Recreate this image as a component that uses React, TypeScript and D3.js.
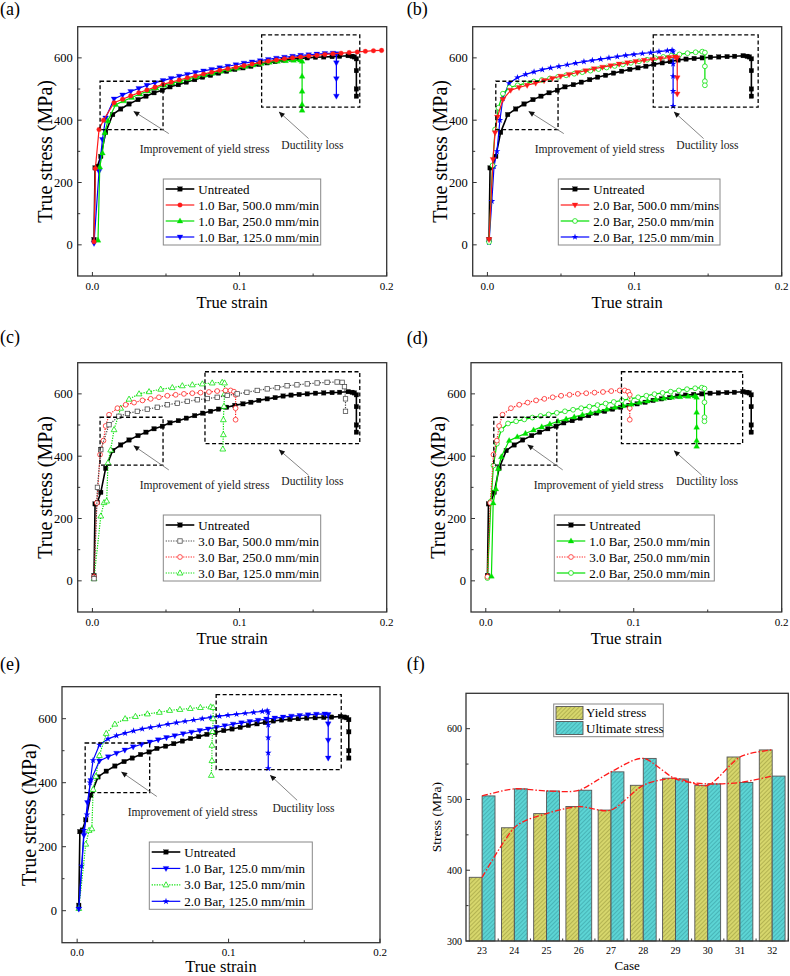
import React from 'react';
import * as d3 from 'd3';

type Pt = [number, number];

// ---------------- data: true strain / true stress (MPa) ----------------
const untreated: Pt[] = [[0.0011,17],[0.0018,247],[0.0034,252],[0.0057,284],[0.009,361],[0.0138,418],[0.0192,436],[0.0249,452],[0.031,466],[0.0364,477],[0.0419,488],[0.0475,496],[0.0527,507],[0.0584,514],[0.0638,522],[0.0695,530],[0.0749,538],[0.0803,544],[0.0857,551],[0.0912,557],[0.0968,563],[0.1023,568],[0.1077,573],[0.1131,579],[0.1188,584],[0.1242,588],[0.1296,593],[0.135,596],[0.1405,598],[0.146,600],[0.1516,602],[0.1572,603],[0.1629,604],[0.168,605],[0.1738,607],[0.1765,605],[0.178,603],[0.1794,597],[0.1794,559],[0.1794,500],[0.1794,477]];

const bar1v500: Pt[] = [[0.0011,10],[0.002,245],[0.0045,370],[0.0075,400],[0.0147,456],[0.0205,467],[0.026,478],[0.0315,488],[0.037,497],[0.0425,506],[0.048,515],[0.0535,522],[0.059,529],[0.0645,536],[0.07,542],[0.0755,548],[0.081,554],[0.0865,560],[0.092,565],[0.0975,570],[0.103,575],[0.1085,580],[0.114,585],[0.1195,589],[0.125,593],[0.1305,597],[0.136,600],[0.1415,603],[0.147,606],[0.1525,608],[0.158,611],[0.1635,613],[0.169,615],[0.1745,617],[0.18,619],[0.1855,621],[0.191,623],[0.1965,624]];

const bar1v250: Pt[] = [[0.0038,15],[0.005,250],[0.0068,295],[0.0084,360],[0.0105,398],[0.0158,450],[0.0213,462],[0.0268,473],[0.0323,484],[0.0378,494],[0.0433,503],[0.0488,512],[0.0543,519],[0.0598,526],[0.0653,533],[0.0708,539],[0.0763,545],[0.0818,551],[0.0873,557],[0.0928,562],[0.0983,567],[0.1038,572],[0.1093,577],[0.1148,582],[0.1203,586],[0.1258,589],[0.1313,591],[0.1368,592],[0.1413,593],[0.1425,589],[0.1425,541],[0.1425,493],[0.1425,450],[0.1425,432]];

const bar1v125: Pt[] = [[0.0011,5],[0.0045,236],[0.0068,338],[0.009,407],[0.0147,468],[0.0205,481],[0.026,492],[0.0315,502],[0.037,512],[0.0425,520],[0.048,527],[0.0535,534],[0.059,541],[0.0645,547],[0.07,553],[0.0755,558],[0.081,563],[0.0865,568],[0.092,573],[0.0975,578],[0.103,583],[0.1085,587],[0.114,591],[0.1195,595],[0.125,599],[0.1305,602],[0.136,605],[0.1415,608],[0.147,610],[0.1525,612],[0.158,614],[0.1635,615],[0.1658,613],[0.1658,584],[0.1658,533],[0.1658,477]];

const bar2v500: Pt[] = [[0.0011,17],[0.0038,274],[0.0052,360],[0.0068,410],[0.0105,466],[0.0158,496],[0.0215,505],[0.027,512],[0.0328,519],[0.0385,527],[0.0441,534],[0.0498,541],[0.0555,547],[0.0612,553],[0.0668,559],[0.0725,565],[0.0782,570],[0.0838,575],[0.0895,580],[0.0952,584],[0.1008,588],[0.1065,592],[0.1122,595],[0.1178,598],[0.1235,601],[0.1275,603],[0.129,600],[0.129,536],[0.129,484]];

const bar2v250: Pt[] = [[0.0011,9],[0.0035,255],[0.0052,370],[0.0075,440],[0.0105,485],[0.015,505],[0.0205,512],[0.026,518],[0.0315,524],[0.037,529],[0.0425,534],[0.048,539],[0.0535,544],[0.059,549],[0.0645,554],[0.07,559],[0.0755,564],[0.081,569],[0.0865,574],[0.092,579],[0.0975,584],[0.103,589],[0.1085,594],[0.114,599],[0.1195,603],[0.125,607],[0.1305,611],[0.136,615],[0.1415,618],[0.146,620],[0.1478,617],[0.1478,573],[0.1478,525],[0.1478,512]];

const bar2v125: Pt[] = [[0.0011,8],[0.003,140],[0.0045,252],[0.0065,300],[0.0085,400],[0.0105,470],[0.0147,518],[0.0204,537],[0.026,547],[0.0317,555],[0.0373,562],[0.043,568],[0.0486,573],[0.0543,578],[0.06,583],[0.0656,588],[0.0713,592],[0.077,596],[0.0826,600],[0.0883,604],[0.094,608],[0.0996,611],[0.1053,614],[0.111,617],[0.1166,620],[0.1223,623],[0.1255,625],[0.1262,620],[0.1262,581],[0.1262,541],[0.1262,493],[0.1262,445]];

const bar3v500: Pt[] = [[0.0011,7],[0.0034,300],[0.0057,421],[0.0113,501],[0.018,528],[0.0238,537],[0.0305,544],[0.0373,551],[0.0441,557],[0.0509,565],[0.0577,570],[0.0645,576],[0.0713,581],[0.078,585],[0.0848,589],[0.0916,595],[0.0984,600],[0.105,605],[0.112,611],[0.1188,616],[0.1256,620],[0.1323,626],[0.139,629],[0.146,632],[0.1527,635],[0.1595,637],[0.1663,638],[0.1697,637],[0.1713,623],[0.172,584],[0.172,544]];

const bar3v250: Pt[] = [[0.0011,13],[0.003,250],[0.0052,405],[0.0075,450],[0.009,497],[0.0113,533],[0.017,554],[0.0226,565],[0.0283,572],[0.034,579],[0.0396,584],[0.0452,589],[0.0509,594],[0.0566,597],[0.0622,600],[0.0679,602],[0.0735,604],[0.0792,606],[0.0848,609],[0.0905,611],[0.0939,611],[0.0962,607],[0.0973,597],[0.0973,554],[0.0973,517]];

const bar3v125: Pt[] = [[0.0011,7],[0.0057,208],[0.0079,251],[0.0097,256],[0.0106,379],[0.0124,420],[0.0147,485],[0.0192,554],[0.0249,583],[0.0317,600],[0.0385,607],[0.0464,615],[0.0543,620],[0.0611,626],[0.0679,629],[0.0747,632],[0.0814,635],[0.0882,637],[0.0898,635],[0.0898,600],[0.0894,560],[0.089,517],[0.089,469],[0.0886,423]];

const strainTicks = [0, 0.1, 0.2];
const strainTickLabels = ['0.0', '0.1', '0.2'];
const strainMinor = [0.05, 0.15];
const stressTicks = [0, 200, 400, 600];
const stressMinor = [100, 300, 500];

// legend names per panel
const namesA = ['Untreated', '1.0 Bar, 500.0 mm/min', '1.0 Bar, 250.0 mm/min', '1.0 Bar, 125.0 mm/min'];
const namesB = ['Untreated', '2.0 Bar, 500.0 mm/mins', '2.0 Bar, 250.0 mm/min', '2.0 Bar, 125.0 mm/min'];
const namesC = ['Untreated', '3.0 Bar, 500.0 mm/min', '3.0 Bar, 250.0 mm/min', '3.0 Bar, 125.0 mm/min'];
const namesD = ['Untreated', '1.0 Bar, 250.0 mm/min', '3.0 Bar, 250.0 mm/min', '2.0 Bar, 250.0 mm/min'];
const namesE = ['Untreated', '1.0 Bar, 125.0 mm/min', '3.0 Bar, 125.0 mm/min', '2.0 Bar, 125.0 mm/min'];

// annotation boxes [x0, x1, y0, y1] and arrows [xTail, yTail, xHead, yHead] (data units)
const yieldBoxes = [[0.0052,0.048,370,525],[0.0057,0.048,370,525],[0.0052,0.048,371,525],[0.0054,0.048,371,525],[0.0053,0.0479,369,524]];
const ductBoxes = [[0.115,0.1817,442,674],[0.1127,0.184,442,674],[0.0765,0.1817,440,671],[0.0917,0.1736,440,671],[0.0918,0.1744,441,675]];
const yieldArrows = [[0.0519,357,0.0282,428],[0.0519,357,0.0282,428],[0.0519,356,0.0282,433],[0.052,356,0.0284,436],[0.0526,357,0.0294,433]];
const ductArrows = [[0.1469,341,0.127,426],[0.1469,341,0.127,426],[0.1469,339,0.127,420],[0.146,339,0.1274,417],[0.1453,345,0.1276,423]];
const yieldTextPos: Pt = [0.0762, 309];
const ductTextPos: Pt = [0.1495, 320];

// panel (f)
const cases = [23, 24, 25, 26, 27, 28, 29, 30, 31, 32];
const yieldStress = [390, 460, 480, 490, 485, 520, 530, 520, 560, 570];
const ultimateStress = [505, 515, 512, 513, 539, 558, 529, 522, 524, 533];
const caseStressTicks = [300, 400, 500, 600];
const caseStressMinor = [350, 450, 550];

// ---------------- styles ----------------
const FONT = '"Liberation Serif", "Times New Roman", Times, serif';
const RED = '#ff1a1a';
const GREEN = '#00e000';
const BLUE = '#0000ff';

type Sty = { color: string; marker: string; open?: boolean; dash?: string; width?: number };
const stUntreated: Sty = { color: '#000', marker: 'square', width: 1.6 };
const st1v500: Sty = { color: RED, marker: 'circle' };
const st1v250: Sty = { color: GREEN, marker: 'triUp' };
const st1v125: Sty = { color: BLUE, marker: 'triDown' };
const st2v500: Sty = { color: RED, marker: 'triDown' };
const st2v250: Sty = { color: GREEN, marker: 'circle', open: true };
const st2v125: Sty = { color: BLUE, marker: 'star' };
const st3v500: Sty = { color: '#444', marker: 'square', open: true, dash: '1.2,1.3' };
const st3v250: Sty = { color: RED, marker: 'circle', open: true, dash: '1.2,1.3' };
const st3v125: Sty = { color: GREEN, marker: 'triUp', open: true, dash: '1.2,1.3' };

function Mark({ kind, cx, cy, color, open }: { kind: string; cx: number; cy: number; color: string; open?: boolean }) {
  const fill = open ? '#fff' : color;
  const sw = open ? 0.75 : 0.3;
  if (kind === 'square') return <rect x={cx - 2.2} y={cy - 2.2} width={4.4} height={4.4} fill={fill} stroke={color} strokeWidth={sw} />;
  if (kind === 'circle') return <circle cx={cx} cy={cy} r={open ? 2.4 : 2.3} fill={fill} stroke={color} strokeWidth={sw} />;
  if (kind === 'triUp') return <path d={`M${cx},${cy - 3.1}L${cx + 2.9},${cy + 2}L${cx - 2.9},${cy + 2}Z`} fill={fill} stroke={color} strokeWidth={sw} />;
  if (kind === 'triDown') return <path d={`M${cx},${cy + 3.1}L${cx + 2.9},${cy - 2}L${cx - 2.9},${cy - 2}Z`} fill={fill} stroke={color} strokeWidth={sw} />;
  const star = d3.symbol().type(d3.symbolStar).size(14)() || '';
  return <path transform={`translate(${cx},${cy})`} d={star} fill={color} />;
}

type PanelCfg = {
  key: string; label: string; lx: number; ly: number;
  left: number; right: number; top: number; bottom: number;
  series: Pt[][]; styles: Sty[]; names: string[];
  legend: number[]; idx: number;
};

const panels: PanelCfg[] = [
  { key: 'a', label: '(a)', lx: 0, ly: 15, left: 77.7, right: 386.7, top: 26.7, bottom: 276,
    series: [untreated, bar1v500, bar1v250, bar1v125], styles: [stUntreated, st1v500, st1v250, st1v125], names: namesA, legend: [163.3, 179, 157.4, 66], idx: 0 },
  { key: 'b', label: '(b)', lx: 406.7, ly: 15, left: 472.7, right: 781.7, top: 26.7, bottom: 276,
    series: [untreated, bar2v500, bar2v250, bar2v125], styles: [stUntreated, st2v500, st2v250, st2v125], names: namesB, legend: [558.3, 179, 161.7, 66], idx: 1 },
  { key: 'c', label: '(c)', lx: 0, ly: 343, left: 77.7, right: 386.7, top: 362.7, bottom: 612,
    series: [untreated, bar3v500, bar3v250, bar3v125], styles: [stUntreated, st3v500, st3v250, st3v125], names: namesC, legend: [163.3, 515, 157.4, 66], idx: 2 },
  { key: 'd', label: '(d)', lx: 406.7, ly: 344, left: 471, right: 781.7, top: 362.7, bottom: 612,
    series: [untreated, bar1v250, bar3v250, bar2v250], styles: [stUntreated, st1v250, st3v250, st2v250], names: namesD, legend: [554.3, 515, 160, 66], idx: 3 },
  { key: 'e', label: '(e)', lx: 0, ly: 670, left: 62, right: 380, top: 686.7, bottom: 942.7,
    series: [untreated, bar1v125, bar3v125, bar2v125], styles: [stUntreated, st1v125, st3v125, st2v125], names: namesE, legend: [149.3, 842, 163, 67.3], idx: 4 },
];

function StressPanel({ p }: { p: PanelCfg }) {
  const x = d3.scaleLinear().domain([-0.01, 0.2]).range([p.left, p.right]);
  const y = d3.scaleLinear().domain([-100, 700]).range([p.bottom, p.top]);
  const line = d3.line<Pt>().x(d => x(d[0])).y(d => y(d[1]));
  const clipId = `clip-${p.key}`;
  const yb = yieldBoxes[p.idx];
  const db = ductBoxes[p.idx];
  const ya = yieldArrows[p.idx];
  const da = ductArrows[p.idx];
  const [lgX, lgY, lgW, lgH] = p.legend;
  const rowGap = (lgH - 18) / 3;
  const cxm = (p.left + p.right) / 2;
  const cym = (p.top + p.bottom) / 2;
  const order = [0, 3, 2, 1];
  const isE = p.key === 'e';
  return (
    <g>
      <defs>
        <clipPath id={clipId}><rect x={p.left} y={p.top} width={p.right - p.left} height={p.bottom - p.top} /></clipPath>
      </defs>
      <text x={p.lx} y={p.ly} fontSize={18} fontFamily={FONT}>{p.label}</text>
      <g clipPath={`url(#${clipId})`}>
        {order.map(i => {
          const s = p.styles[i];
          const data = p.series[i];
          return (
            <g key={i}>
              <path d={line(data) || ''} fill="none" stroke={s.color} strokeWidth={s.width || 1.2} strokeDasharray={s.dash} />
              {data.map((d, j) => <Mark key={j} kind={s.marker} cx={x(d[0])} cy={y(d[1])} color={s.color} open={s.open} />)}
            </g>
          );
        })}
      </g>
      {/* dashed boxes */}
      <rect x={x(yb[0])} y={y(yb[3])} width={x(yb[1]) - x(yb[0])} height={y(yb[2]) - y(yb[3])} fill="none" stroke="#000" strokeWidth={1.3} strokeDasharray="4,2.5" />
      <rect x={x(db[0])} y={y(db[3])} width={x(db[1]) - x(db[0])} height={y(db[2]) - y(db[3])} fill="none" stroke="#000" strokeWidth={1.3} strokeDasharray="4,2.5" />
      {/* arrows */}
      <line x1={x(ya[0])} y1={y(ya[1])} x2={x(ya[2])} y2={y(ya[3])} stroke="#666" strokeWidth={0.8} markerEnd="url(#arrowHead)" />
      <line x1={x(da[0])} y1={y(da[1])} x2={x(da[2])} y2={y(da[3])} stroke="#666" strokeWidth={0.8} markerEnd="url(#arrowHead)" />
      <text x={x(yieldTextPos[0])} y={y(yieldTextPos[1])} dy="0.35em" fontSize={11.6} fontFamily={FONT} textAnchor="middle" fill="#222">Improvement of yield stress</text>
      <text x={x(ductTextPos[0])} y={y(ductTextPos[1])} dy="0.35em" fontSize={11.6} fontFamily={FONT} textAnchor="middle" fill="#222">Ductility loss</text>
      {/* frame */}
      <rect x={p.left} y={p.top} width={p.right - p.left} height={p.bottom - p.top} fill="none" stroke="#333" strokeWidth={1.3} />
      {/* ticks */}
      {stressTicks.map(t => (
        <g key={'yt' + t}>
          <line x1={p.left} x2={p.left + 4} y1={y(t)} y2={y(t)} stroke="#333" strokeWidth={1} />
          <text x={p.left - 5} y={y(t)} dy="0.35em" fontSize={12.5} fontFamily={FONT} textAnchor="end">{t}</text>
        </g>
      ))}
      {stressMinor.map(t => <line key={'ym' + t} x1={p.left} x2={p.left + 2.5} y1={y(t)} y2={y(t)} stroke="#333" strokeWidth={1} />)}
      {strainTicks.map((t, i) => (
        <g key={'xt' + t}>
          <line x1={x(t)} x2={x(t)} y1={p.bottom} y2={p.bottom - 4} stroke="#333" strokeWidth={1} />
          <text x={x(t)} y={p.bottom + 13.5} fontSize={11} fontFamily={FONT} textAnchor="middle">{strainTickLabels[i]}</text>
        </g>
      ))}
      {strainMinor.map(t => <line key={'xm' + t} x1={x(t)} x2={x(t)} y1={p.bottom} y2={p.bottom - 2.5} stroke="#333" strokeWidth={1} />)}
      <text x={cxm} y={p.bottom + (isE ? 29 : 32)} fontSize={16.5} fontFamily={FONT} textAnchor="middle">True strain</text>
      <text transform={`translate(${p.left - 26},${cym}) rotate(-90)`} fontSize={20} fontFamily={FONT} textAnchor="middle">True stress (MPa)</text>
      {/* legend */}
      <rect x={lgX} y={lgY} width={lgW} height={lgH} fill="#fff" stroke="#888" strokeWidth={1} />
      {p.names.map((n, i) => {
        const s = p.styles[i];
        const ry = lgY + 10 + i * rowGap;
        return (
          <g key={'lg' + i}>
            <line x1={lgX + 2.4} x2={lgX + 31} y1={ry} y2={ry} stroke={s.color} strokeWidth={s.width || 1.2} strokeDasharray={s.dash} />
            <Mark kind={s.marker} cx={lgX + 16.7} cy={ry} color={s.color} open={s.open} />
            <text x={lgX + 35} y={ry} dy="0.35em" fontSize={13} fontFamily={FONT}>{n}</text>
          </g>
        );
      })}
    </g>
  );
}

function BarPanel() {
  const left = 466, right = 788.3, top = 693.3, bottom = 941;
  const x = d3.scaleLinear().domain([22.5, 32.5]).range([left, right]);
  const y = d3.scaleLinear().domain([300, 650]).range([bottom, top]);
  const bw = 0.4;
  const curve = d3.line<number>().x((_, i) => x(cases[i])).y(d => y(d)).curve(d3.curveCardinal.tension(0.2));
  return (
    <g>
      <defs>
        <pattern id="hatchY" patternUnits="userSpaceOnUse" width={3} height={3} patternTransform="rotate(45)">
          <rect width={3} height={3} fill="#d6d66c" />
          <line x1={0} y1={0} x2={0} y2={3} stroke="#8a8a30" strokeWidth={0.9} />
        </pattern>
        <pattern id="hatchC" patternUnits="userSpaceOnUse" width={3} height={3} patternTransform="rotate(45)">
          <rect width={3} height={3} fill="#5cd4d4" />
          <line x1={0} y1={0} x2={0} y2={3} stroke="#2f8f94" strokeWidth={0.9} />
        </pattern>
      </defs>
      <text x={406.7} y={670} fontSize={18} fontFamily={FONT}>(f)</text>
      {cases.map((c, i) => (
        <g key={c}>
          <rect x={x(c - bw)} y={y(yieldStress[i])} width={x(c) - x(c - bw)} height={bottom - y(yieldStress[i])} fill="url(#hatchY)" stroke="#555" strokeWidth={0.9} />
          <rect x={x(c)} y={y(ultimateStress[i])} width={x(c + bw) - x(c)} height={bottom - y(ultimateStress[i])} fill="url(#hatchC)" stroke="#555" strokeWidth={0.9} />
        </g>
      ))}
      <path d={curve(yieldStress) || ''} fill="none" stroke={RED} strokeWidth={1.3} strokeDasharray="6,2,1.5,2" />
      <path d={curve(ultimateStress) || ''} fill="none" stroke={RED} strokeWidth={1.3} strokeDasharray="6,2,1.5,2" />
      <rect x={left} y={top} width={right - left} height={bottom - top} fill="none" stroke="#333" strokeWidth={1.3} />
      {caseStressTicks.map(t => (
        <g key={'t' + t}>
          <line x1={left} x2={left + 4} y1={y(t)} y2={y(t)} stroke="#333" strokeWidth={1} />
          <text x={left - 4} y={y(t)} dy="0.35em" fontSize={10} fontFamily={FONT} textAnchor="end">{t}</text>
        </g>
      ))}
      {caseStressMinor.map(t => <line key={'m' + t} x1={left} x2={left + 2.5} y1={y(t)} y2={y(t)} stroke="#333" strokeWidth={1} />)}
      {cases.map(c => (
        <g key={'xt' + c}>
          <line x1={x(c + 0.5)} x2={x(c + 0.5)} y1={bottom} y2={bottom - 2.5} stroke="#333" strokeWidth={1} />
          <text x={x(c)} y={bottom + 13} fontSize={10} fontFamily={FONT} textAnchor="middle">{c}</text>
        </g>
      ))}
      <text x={(left + right) / 2} y={970} fontSize={13} fontFamily={FONT} textAnchor="middle">Case</text>
      <text transform={`translate(${left - 25},${(top + bottom) / 2}) rotate(-90)`} fontSize={13.5} fontFamily={FONT} textAnchor="middle">Stress (MPa)</text>
      <rect x={553.7} y={704} width={109.6} height={32.7} fill="#fff" stroke="#888" strokeWidth={1} />
      <rect x={556} y={706.5} width={27} height={13} fill="url(#hatchY)" stroke="#555" strokeWidth={0.9} />
      <rect x={556} y={721.5} width={27} height={13} fill="url(#hatchC)" stroke="#555" strokeWidth={0.9} />
      <text x={586} y={717} fontSize={13} fontFamily={FONT}>Yield stress</text>
      <text x={586} y={732.5} fontSize={13} fontFamily={FONT}>Ultimate stress</text>
    </g>
  );
}

export default function App() {
  return (
    <svg width={790} height={976} style={{ position: 'absolute', left: 0, top: 0, background: '#fff' }} xmlns="http://www.w3.org/2000/svg">
      <defs>
        <marker id="arrowHead" viewBox="0 0 10 10" refX={9} refY={5} markerWidth={7} markerHeight={6} markerUnits="userSpaceOnUse" orient="auto">
          <path d="M0,0.5 L10,5 L0,9.5 z" fill="#111" />
        </marker>
      </defs>
      <rect x={0} y={0} width={790} height={976} fill="#fff" />
      {panels.map(p => <StressPanel key={p.key} p={p} />)}
      <BarPanel />
    </svg>
  );
}
